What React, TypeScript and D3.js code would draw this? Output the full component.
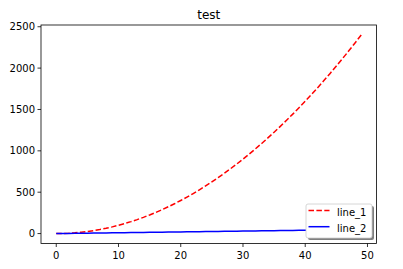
import React from "react";
import * as d3 from "d3";

const xValues = [0,1,2,3,4,5,6,7,8,9,10,11,12,13,14,15,16,17,18,19,20,21,22,23,24,25,26,27,28,29,30,31,32,33,34,35,36,37,38,39,40,41,42,43,44,45,46,47,48,49];
const line1 = [0,1,4,9,16,25,36,49,64,81,100,121,144,169,196,225,256,289,324,361,400,441,484,529,576,625,676,729,784,841,900,961,1024,1089,1156,1225,1296,1369,1444,1521,1600,1681,1764,1849,1936,2025,2116,2209,2304,2401];
const line2 = [0,1,2,3,4,5,6,7,8,9,10,11,12,13,14,15,16,17,18,19,20,21,22,23,24,25,26,27,28,29,30,31,32,33,34,35,36,37,38,39,40,41,42,43,44,45,46,47,48,49];
const xTicks = [0, 10, 20, 30, 40, 50];
const yTicks = [0, 500, 1000, 1500, 2000, 2500];
const seriesNames = ["line_1", "line_2"];
const title = "test";

export default function App() {
  const W = 403, H = 269;
  const left = 41, right = 376.5, top = 25, bottom = 243.5;
  const x = d3.scaleLinear().domain([-2.45, 51.45]).range([left, right]);
  const y = d3.scaleLinear().domain([-120.05, 2521.05]).range([bottom, top]);
  const mk = (ys: number[]) =>
    d3.line<number>().x((_, i) => x(xValues[i])).y((v) => y(v))(ys) || "";
  const font = "DejaVu Sans, sans-serif";
  const lx = 306, ly = 204, lw = 66, lh = 34;
  return (
    <svg width={W} height={H} style={{ position: "absolute", left: 0, top: 0 }} fontFamily={font}>
      <rect x={0} y={0} width={W} height={H} fill="#fff" />
      <text x={(left + right) / 2} y={19} textAnchor="middle" fontSize={12} fill="#000">{title}</text>
      <path d={mk(line1)} fill="none" stroke="#ff0000" strokeWidth={1.5} strokeDasharray="5.5,2.4" />
      <path d={mk(line2)} fill="none" stroke="#0000ff" strokeWidth={1.5} />
      <rect x={left} y={top} width={right - left} height={bottom - top} fill="none" stroke="#000" strokeWidth={0.8} />
      {xTicks.map((t) => (
        <g key={"x" + t}>
          <line x1={x(t)} x2={x(t)} y1={bottom} y2={bottom + 3.5} stroke="#000" strokeWidth={0.8} />
          <text x={x(t)} y={bottom + 15} textAnchor="middle" fontSize={10} fill="#000">{t}</text>
        </g>
      ))}
      {yTicks.map((t) => (
        <g key={"y" + t}>
          <line x1={left - 3.5} x2={left} y1={y(t)} y2={y(t)} stroke="#000" strokeWidth={0.8} />
          <text x={left - 6} y={y(t)} dy="0.35em" textAnchor="end" fontSize={10} fill="#000">{t}</text>
        </g>
      ))}
      <rect x={lx + 2} y={ly + 2} width={lw} height={lh} rx={2} fill="#000" opacity={0.5} />
      <rect x={lx} y={ly} width={lw} height={lh} rx={2} fill="#fff" stroke="#ccc" strokeWidth={0.8} />
      <line x1={lx + 2.5} x2={lx + 23.5} y1={ly + 6.5} y2={ly + 6.5} stroke="#ff0000" strokeWidth={1.5} strokeDasharray="5.5,2.4" />
      <text x={lx + 31} y={ly + 8} dy="0.35em" fontSize={10} fill="#000">{seriesNames[0]}</text>
      <line x1={lx + 2.5} x2={lx + 23.5} y1={ly + 22.7} y2={ly + 22.7} stroke="#0000ff" strokeWidth={1.5} />
      <text x={lx + 31} y={ly + 24.5} dy="0.35em" fontSize={10} fill="#000">{seriesNames[1]}</text>
    </svg>
  );
}
